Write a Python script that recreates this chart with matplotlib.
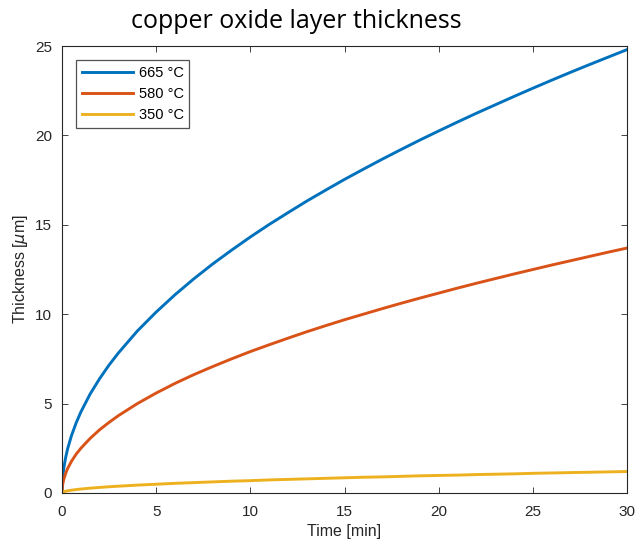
import matplotlib
matplotlib.use("Agg")
import matplotlib.pyplot as plt

# oxide layer thickness [um]
time_min = [0, 0.02, 0.05, 0.1, 0.2, 0.3, 0.5, 0.75, 1, 1.5, 2, 2.5, 3, 4, 5, 6, 7, 8, 9, 10,
            11, 12, 13, 14, 15, 16, 17, 18, 19, 20, 21, 22, 23, 24, 25, 26, 27, 28, 29, 30]
thick_665 = [0, 0.64, 1.01, 1.43, 2.02, 2.48, 3.20, 3.92, 4.53, 5.55, 6.40, 7.16, 7.84, 9.06,
             10.12, 11.09, 11.98, 12.81, 13.58, 14.32, 15.02, 15.68, 16.33, 16.94, 17.54,
             18.11, 18.67, 19.21, 19.74, 20.25, 20.75, 21.24, 21.71, 22.18, 22.64, 23.09,
             23.53, 23.96, 24.38, 24.80]
thick_580 = [0, 0.35, 0.56, 0.79, 1.12, 1.37, 1.77, 2.17, 2.50, 3.06, 3.54, 3.95, 4.33, 5.00,
             5.59, 6.13, 6.62, 7.07, 7.50, 7.91, 8.29, 8.66, 9.02, 9.36, 9.69, 10.00, 10.31,
             10.61, 10.90, 11.18, 11.46, 11.73, 11.99, 12.25, 12.50, 12.75, 12.99, 13.23,
             13.47, 13.70]
thick_350 = [0, 0.03, 0.05, 0.07, 0.10, 0.12, 0.155, 0.19, 0.22, 0.27, 0.31, 0.35, 0.38, 0.44,
             0.49, 0.54, 0.58, 0.62, 0.66, 0.69, 0.73, 0.76, 0.79, 0.82, 0.85, 0.88, 0.90,
             0.93, 0.96, 0.98, 1.00, 1.03, 1.05, 1.07, 1.10, 1.12, 1.14, 1.16, 1.18, 1.20]
labels = ["665 °C", "580 °C", "350 °C"]
colors = ["#0072BD", "#D95319", "#EDB120"]

plt.rcParams["font.family"] = ["Liberation Sans", "DejaVu Sans"]

fig = plt.figure(figsize=(6.38, 5.48), dpi=100)
ax = fig.add_axes([0.0972, 0.1004, 0.8856, 0.8156])

for y, lab, c in zip((thick_665, thick_580, thick_350), labels, colors):
    ax.plot(time_min, y, color=c, lw=2.1, label=lab, solid_joinstyle="round")

ax.set_xlim(0, 30)
ax.set_ylim(0, 25)
ax.set_xticks(range(0, 31, 5))
ax.set_yticks(range(0, 26, 5))
ax.tick_params(direction="in", top=True, right=True, labelsize=11,
               colors="#262626", length=4, width=0.6)
ax.tick_params(axis="x", pad=9)
ax.tick_params(axis="y", pad=7)
for s in ax.spines.values():
    s.set_color("#262626")
    s.set_linewidth(0.8)
ax.set_xlabel("Time [min]", fontsize=11.5, color="#262626", labelpad=3)
ax.set_ylabel(r"Thickness [$\mu$m]", fontsize=11.5, color="#262626", labelpad=4)

leg = ax.legend(loc="upper left", fontsize=10.5, frameon=True, fancybox=False,
                edgecolor="#262626", handlelength=3.5, borderaxespad=0.95,
                labelspacing=0.5, handletextpad=0.4, borderpad=0.4)
leg.get_frame().set_linewidth(0.9)

fig.text(0.465, 0.96, "copper oxide layer thickness", fontsize=18,
         family=["Open Sans", "DejaVu Sans"], ha="center", va="center", color="black")

fig.savefig("out.png", dpi=100)
